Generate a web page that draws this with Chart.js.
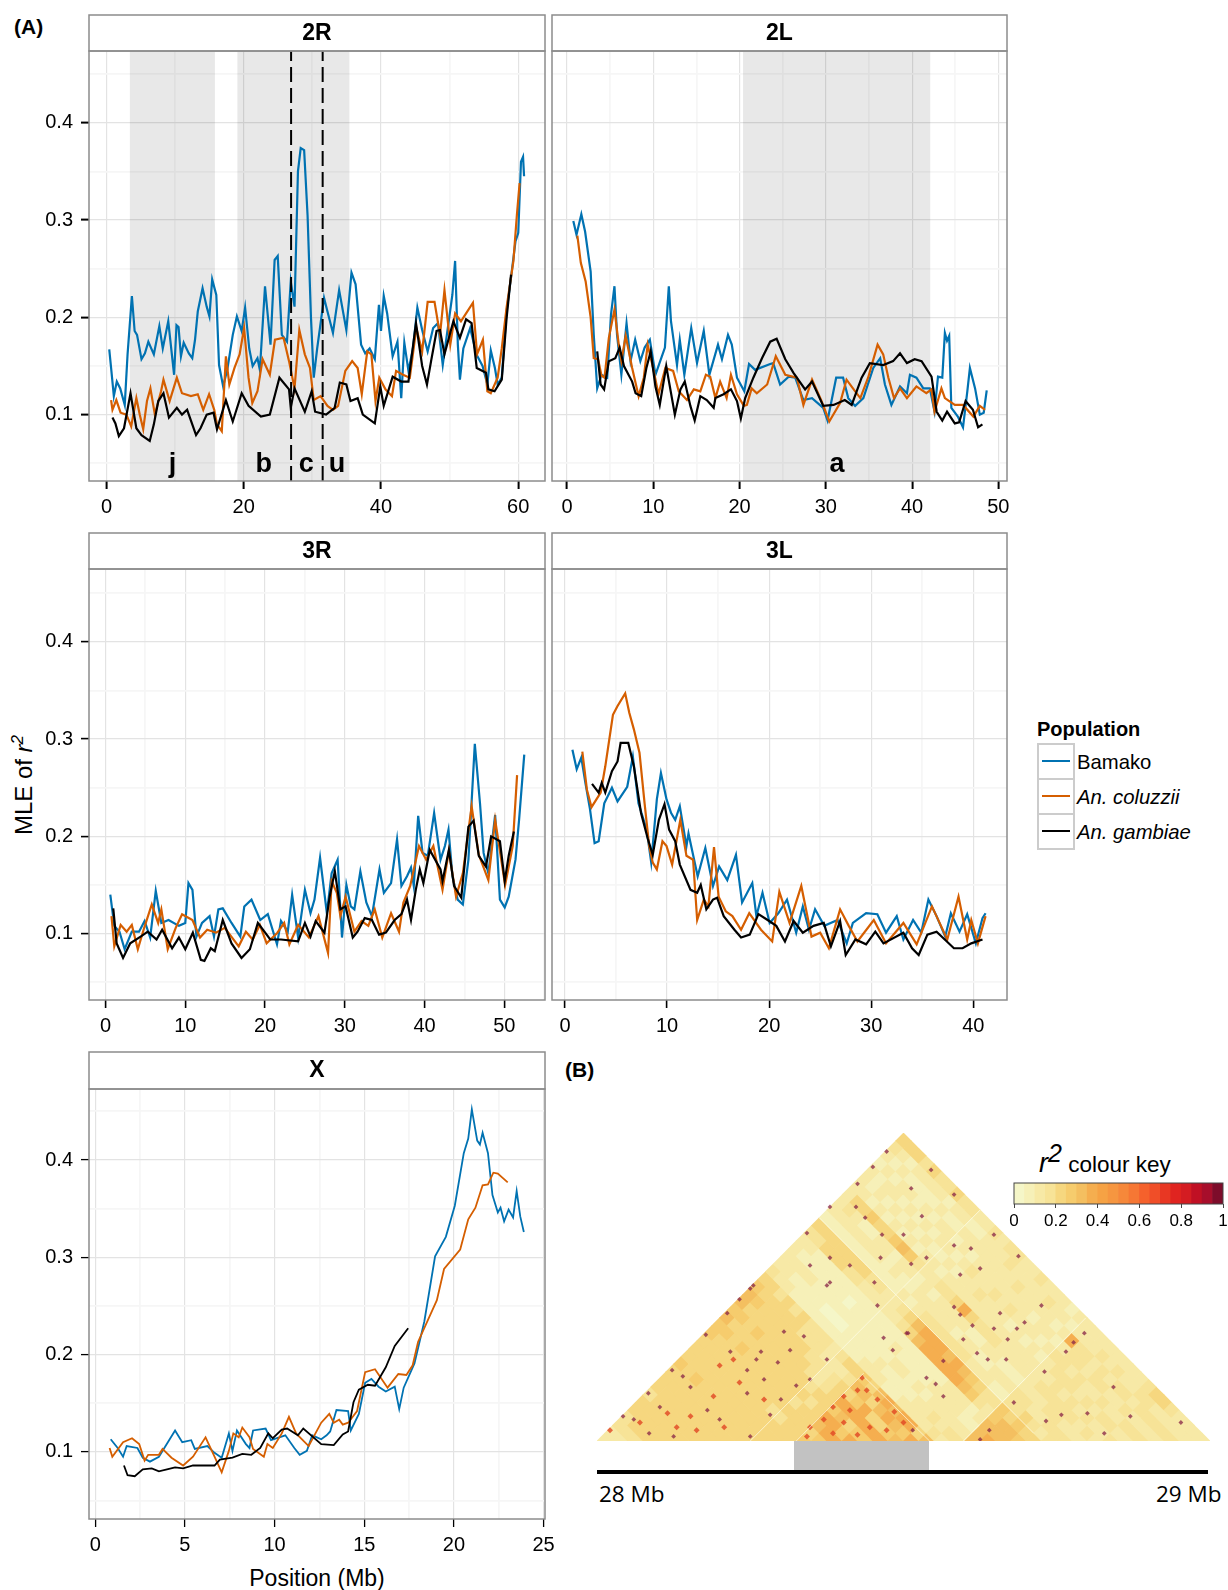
<!DOCTYPE html>
<html>
<head>
<meta charset="utf-8">
<title>LD decay</title>
<script src="https://cdn.jsdelivr.net/npm/chart.js@4"></script>
<style>
    html, body { margin: 0; padding: 0; background: #fff; }
    body { position: relative; width: 1228px; height: 1590px; overflow: hidden; font-family: "Liberation Sans", sans-serif; color: #000; }
    canvas { position: absolute; }
    .txt { position: absolute; white-space: nowrap; line-height: 1; }
    .keybox { position: absolute; left: 1037px; width: 34px; height: 33px; border: 2px solid #ccc; }
    .keyline { position: absolute; left: 3px; right: 3px; top: 15px; height: 2px; }
</style>
</head>
<body>
<div class="txt" style="left:14px;top:16px;font-weight:bold;font-size:21px">(A)</div>
<div class="txt" style="left:565px;top:1059px;font-weight:bold;font-size:21px">(B)</div>
<div class="txt" style="left:24px;top:785px;font-size:24px;transform:translate(-50%,-50%) rotate(-90deg)">MLE of <i>r</i><sup style="font-size:17px;font-style:italic;line-height:0">2</sup></div>
<div class="txt" style="left:317px;top:1578px;font-size:23px;transform:translate(-50%,-50%)">Position (Mb)</div>

<div class="txt" style="left:1037px;top:719px;font-size:20px;font-weight:bold">Population</div>
<div class="keybox" style="top:743px"><div class="keyline" style="background:#0072B2"></div></div>
<div class="keybox" style="top:778px"><div class="keyline" style="background:#D55E00"></div></div>
<div class="keybox" style="top:813px"><div class="keyline" style="background:#000"></div></div>
<div class="txt" style="left:1077px;top:752px;font-size:20.3px">Bamako</div>
<div class="txt" style="left:1077px;top:787px;font-size:20.3px;font-style:italic">An. coluzzii</div>
<div class="txt" style="left:1077px;top:822px;font-size:20.3px;font-style:italic">An. gambiae</div>

<div class="txt" style="left:1039px;top:1150px;font-size:22.5px"><i style="font-size:27px">r</i><sup style="font-size:25px;font-style:italic;line-height:0;position:relative;top:-2px">2</sup> colour key</div>

<div style="position:absolute;left:794px;top:1441px;width:135px;height:30px;background:#c2c2c2"></div>
<div style="position:absolute;left:597px;top:1470px;width:611px;height:4px;background:#000"></div>
<div class="txt" style="left:599px;top:1483px;font-family:'Open Sans';font-size:22.5px">28 Mb</div>
<div class="txt" style="left:1156px;top:1483px;font-family:'Open Sans';font-size:22.5px">29 Mb</div>

<script>
const bamako2R = [[0.4,.167],[0.67,.148],[1.07,.119],[1.5,.134],[2,.127],[2.66,.110],[3.07,.162],[3.7,.222],[4.1,.186],[4.45,.182],[5.1,.157],[5.6,.163],[6.1,.175],[6.9,.162],[7.7,.191],[8.2,.168],[9,.196],[9.85,.141],[10.2,.192],[10.5,.190],[10.85,.160],[11.25,.174],[12,.163],[12.5,.158],[12.9,.177],[13.3,.206],[14,.230],[14.6,.211],[15,.201],[15.4,.239],[16,.223],[16.4,.151],[17,.129],[17.6,.146],[18.4,.182],[19,.201],[19.7,.186],[20.2,.210],[20.8,.168],[21.3,.150],[22,.158],[22.35,.146],[23.1,.232],[23.9,.172],[24.5,.259],[24.95,.263],[25.55,.182],[26.3,.175],[26.85,.237],[27.4,.211],[27.9,.350],[28.3,.374],[28.8,.372],[29.3,.305],[29.8,.199],[30.2,.138],[30.7,.168],[31.2,.194],[31.7,.220],[32.2,.206],[33,.184],[33.9,.228],[34.95,.187],[35.7,.246],[36.3,.234],[37.1,.172],[37.7,.163],[38.35,.168],[39.1,.157],[39.7,.213],[40,.186],[40.4,.222],[40.9,.204],[41.7,.160],[42.4,.175],[42.95,.117],[43.4,.174],[44,.145],[44.65,.168],[45.3,.210],[46,.187],[46.8,.165],[47.6,.189],[48.3,.194],[49,.151],[49.6,.182],[50.4,.223],[50.8,.258],[51.2,.172],[51.5,.136],[52,.168],[53,.189],[53.9,.162],[54.8,.150],[55.5,.131],[56,.166],[56.6,.148],[57,.131],[57.6,.138],[58.3,.206],[59,.244],[59.6,.278],[60,.287],[60.4,.360],[60.7,.365],[60.85,.345]];
const coluzzii2R = [[0.67,.115],[0.87,.105],[1.43,.115],[2.05,.102],[2.9,.100],[3.6,.088],[4.35,.117],[4.85,.100],[5.35,.085],[5.9,.114],[6.4,.127],[7.05,.100],[7.95,.124],[8.3,.136],[9.2,.114],[10.25,.138],[11,.122],[12.3,.119],[13.3,.121],[14.1,.105],[14.95,.121],[15.7,.105],[16.1,.090],[16.8,.083],[17.4,.160],[17.9,.131],[18.65,.148],[19.4,.162],[20.05,.189],[20.7,.138],[21.25,.112],[22,.124],[22.75,.157],[23.8,.141],[24.55,.177],[25.8,.179],[26.6,.155],[27.4,.127],[28.1,.187],[28.9,.162],[29.65,.148],[30.2,.115],[31.2,.119],[32.2,.109],[33,.105],[33.75,.109],[34.8,.145],[35.8,.155],[36.6,.148],[37.2,.121],[38,.165],[38.6,.162],[39.2,.114],[39.75,.138],[40.65,.126],[41.6,.119],[42.2,.145],[43.2,.141],[44.2,.138],[45.15,.189],[46,.165],[46.8,.216],[47.8,.216],[48.6,.182],[49.25,.228],[50.1,.172],[50.8,.204],[51.65,.196],[52.4,.204],[53.4,.215],[54,.162],[54.85,.177],[55.5,.124],[56,.122],[57,.138],[57.6,.168],[58.3,.210],[59.3,.258],[59.8,.305],[60.2,.338]];
const gambiae2R = [[0.87,.097],[1.3,.091],[1.8,.078],[2.55,.086],[3.5,.122],[4.35,.086],[5.1,.079],[6.3,.073],[6.9,.090],[7.55,.114],[8.3,.122],[9.1,.097],[10.25,.107],[11,.100],[11.75,.105],[13.05,.079],[13.7,.086],[14.6,.100],[15.6,.102],[16.1,.085],[17.4,.115],[18.4,.093],[19.7,.122],[20.7,.109],[22.5,.098],[23.8,.100],[25.2,.138],[26.6,.126],[26.85,.107],[27.4,.127],[28.9,.103],[29.9,.124],[30.4,.103],[32,.100],[33.25,.107],[34,.133],[34.95,.131],[35.55,.114],[36.6,.117],[37.35,.100],[39.1,.091],[39.9,.129],[40.4,.109],[41.7,.139],[42.95,.134],[44,.134],[45.1,.194],[46,.150],[46.7,.131],[47.3,.155],[48.1,.186],[48.6,.187],[49.25,.162],[50.55,.196],[51.5,.179],[52.4,.198],[53.2,.194],[53.95,.148],[55.3,.143],[55.65,.126],[56.55,.124],[57.6,.136],[58.3,.199],[58.95,.244]];

const bamako2L = [[0.73,.299],[1.1,.285],[1.66,.306],[2.1,.288],[2.74,.247],[3.1,.182],[3.5,.127],[4,.141],[4.66,.138],[5.1,.203],[5.5,.232],[5.8,.182],[6.3,.141],[6.9,.194],[7.36,.155],[7.9,.177],[8.5,.155],[9,.169],[9.6,.177],[10.25,.141],[10.8,.155],[11.35,.169],[11.8,.232],[12.05,.196],[12.75,.151],[13.07,.177],[13.6,.141],[14.4,.189],[15.07,.153],[15.85,.186],[16.5,.141],[17.5,.172],[17.96,.157],[18.66,.182],[19.1,.172],[19.7,.138],[20.55,.124],[21.1,.152],[21.8,.146],[23.55,.152],[23.9,.153],[24.7,.131],[25.7,.139],[26.45,.138],[27.4,.115],[28.4,.117],[29.7,.107],[30.2,.094],[31.2,.138],[32,.138],[32.6,.117],[33.4,.109],[34.35,.117],[35.5,.148],[36.3,.158],[36.85,.131],[37.6,.110],[38.6,.129],[39.4,.122],[39.75,.141],[40.5,.138],[41.3,.127],[42.05,.127],[42.6,.103],[43,.139],[43.5,.138],[43.8,.184],[44.05,.176],[44.3,.181],[44.55,.107],[45.3,.098],[45.9,.087],[46.4,.124],[46.7,.148],[47.3,.127],[47.85,.100],[48.3,.102],[48.65,.125]];
const coluzzii2L = [[1.2,.284],[1.6,.256],[2.16,.237],[2.74,.200],[3.1,.158],[3.6,.157],[4,.140],[4.35,.138],[4.85,.179],[5.5,.208],[6,.172],[6.3,.155],[6.8,.181],[7.55,.148],[8.3,.119],[8.9,.138],[9.35,.172],[10.05,.145],[10.6,.121],[11.4,.148],[12.3,.145],[12.95,.124],[13.9,.115],[14.7,.126],[15.45,.124],[16.1,.141],[16.6,.139],[17.2,.117],[17.75,.134],[18.5,.117],[19,.141],[19.7,.121],[20.5,.109],[20.85,.110],[21.4,.127],[22,.122],[23.2,.131],[24.2,.160],[25.3,.141],[26.65,.138],[27.4,.110],[28.4,.136],[29.5,.114],[30.4,.093],[31.65,.112],[32.4,.136],[33.4,.124],[34,.117],[34.9,.138],[36,.172],[36.65,.162],[37.25,.138],[37.9,.117],[38.6,.127],[39.4,.117],[40.5,.129],[41.65,.122],[42.25,.126],[42.6,.103],[43.4,.127],[43.8,.117],[44.95,.110],[45.9,.110],[47.1,.098],[47.85,.109],[48.45,.105]];
const gambiae2L = [[3.5,.165],[3.9,.131],[4.3,.126],[4.85,.155],[5.6,.158],[6.1,.169],[6.6,.150],[7.55,.134],[7.95,.122],[8.6,.119],[9.2,.148],[9.7,.165],[10.25,.129],[10.75,.110],[11.5,.150],[12.5,.100],[13.15,.126],[13.65,.134],[14.3,.109],[14.8,.094],[15.45,.119],[16.2,.115],[17,.107],[17.2,.117],[18.15,.121],[19,.126],[19.7,.114],[20.15,.096],[20.65,.117],[21.6,.138],[22.6,.158],[23.55,.175],[24.3,.178],[25.3,.157],[26.25,.143],[27.6,.126],[28.4,.134],[29.7,.109],[30.9,.110],[32.2,.115],[33,.110],[34.15,.138],[35.1,.153],[36.65,.151],[37.8,.155],[38.6,.163],[39.4,.153],[40.3,.157],[41.1,.155],[42.25,.139],[42.85,.103],[43.5,.094],[44.05,.103],[44.95,.091],[45.45,.092],[46.2,.114],[47.05,.105],[47.65,.087],[48.15,.090]];

const bamako3R = [[0.6,.140],[1.1,.108],[1.75,.102],[2.4,.084],[3.3,.102],[4.2,.102],[4.9,.113],[5.6,.096],[6.3,.144],[7,.111],[7.9,.114],[9.2,.108],[10,.111],[10.4,.152],[10.9,.145],[11.4,.097],[12.1,.111],[13.05,.118],[13.6,.097],[14.15,.125],[14.7,.126],[15.8,.111],[16.9,.097],[17.4,.128],[18.3,.135],[19.4,.114],[20.35,.120],[21.5,.089],[22,.113],[22.85,.102],[23.4,.140],[24.15,.096],[25,.145],[25.7,.121],[26.2,.135],[26.9,.178],[27.75,.121],[28.35,.162],[29.1,.176],[29.65,.096],[30.2,.150],[30.75,.128],[31.2,.125],[31.95,.164],[32.7,.132],[33.4,.118],[34.35,.166],[34.9,.142],[35.8,.152],[36.55,.197],[37.1,.149],[37.8,.159],[38.3,.168],[38.65,.149],[39.2,.221],[39.75,.183],[40.4,.180],[41.2,.224],[42,.176],[42.55,.190],[43,.207],[43.5,.159],[44.15,.135],[44.8,.130],[45.5,.176],[46.3,.295],[46.95,.234],[47.4,.183],[48,.162],[48.85,.222],[49.45,.135],[50.05,.127],[50.55,.138],[51.4,.176],[51.85,.217],[52.5,.284]];
const coluzzii3R = [[0.75,.118],[1.1,.087],[1.9,.109],[2.65,.102],[3.3,.109],[4.05,.084],[4.85,.106],[5.8,.130],[6.6,.111],[7,.125],[7.8,.084],[8.8,.106],[9.6,.120],[10.9,.114],[11.85,.096],[12.75,.104],[13.85,.101],[14.95,.106],[16.7,.087],[17.6,.102],[18.45,.094],[19.35,.109],[20.2,.090],[21.55,.101],[22.4,.111],[23.05,.089],[24.15,.109],[25.5,.096],[26.7,.118],[27.9,.080],[28.35,.154],[29,.142],[29.45,.118],[30.1,.138],[31.2,.102],[32.1,.113],[32.95,.108],[33.75,.125],[34.7,.096],[35.8,.121],[36.8,.102],[37.35,.132],[38.2,.149],[39.3,.190],[40.2,.176],[41.1,.190],[42.25,.145],[43.05,.185],[43.95,.138],[44.8,.162],[45.9,.231],[46.8,.181],[48,.155],[48.85,.217],[50.1,.150],[51.05,.190],[51.6,.263]];
const gambiae3R = [[0.97,.126],[1.4,.090],[2.2,.075],[3.1,.090],[4.4,.097],[5.3,.102],[6.4,.094],[7.1,.104],[8.35,.085],[9.2,.096],[10,.084],[10.95,.101],[11.95,.073],[12.4,.072],[13.2,.085],[13.7,.082],[14.7,.114],[15.8,.090],[17.05,.075],[18.1,.084],[19.1,.111],[20.65,.094],[22,.094],[24.15,.092],[25,.111],[25.7,.097],[26.35,.113],[27.45,.101],[28.1,.138],[28.75,.164],[29.45,.125],[30.1,.128],[31,.096],[31.6,.102],[32.5,.116],[33.4,.114],[34.3,.099],[35.15,.101],[36.25,.114],[37.1,.120],[37.8,.135],[38.3,.114],[38.9,.145],[39.4,.166],[39.85,.152],[40.65,.186],[42,.166],[42.25,.154],[43.05,.186],[43.7,.149],[44.6,.137],[45.5,.210],[46.15,.216],[46.8,.180],[47.7,.169],[48.35,.200],[49.45,.195],[50.05,.154],[50.55,.180],[51.2,.205]];

const bamako3L = [[0.73,.289],[1.15,.269],[1.6,.281],[2,.255],[2.45,.228],[2.9,.193],[3.3,.195],[3.85,.234],[4.6,.250],[5.15,.236],[6.1,.251],[6.65,.282],[7.2,.234],[8,.207],[8.45,.173],[9,.238],[9.4,.265],[9.95,.238],[10.4,.224],[10.8,.217],[11.25,.231],[11.9,.190],[12.1,.203],[13,.159],[13.75,.188],[14.5,.149],[15.1,.169],[15.9,.155],[16.75,.181],[17.35,.132],[18.35,.152],[18.75,.118],[19.35,.142],[20.05,.111],[20.9,.121],[21.75,.135],[22.65,.101],[23.3,.128],[23.9,.104],[24.5,.125],[25.4,.108],[26.7,.114],[27.6,.090],[28.2,.111],[29.5,.121],[30.6,.120],[31.45,.101],[32.5,.118],[33.15,.094],[34.1,.114],[34.9,.101],[35.6,.135],[36.4,.118],[37.25,.097],[37.8,.121],[38.65,.102],[39.4,.120],[40.25,.090],[40.9,.116],[41.2,.121]];
const coluzzii3L = [[1.7,.287],[2.15,.248],[2.6,.230],[3.5,.245],[3.95,.272],[4.7,.325],[5.15,.334],[5.9,.347],[6.3,.327],[6.75,.310],[7.3,.286],[7.8,.234],[8.25,.190],[8.6,.173],[9,.166],[9.55,.195],[9.95,.190],[10.5,.171],[11.3,.217],[11.9,.180],[12.55,.176],[12.95,.114],[13.6,.135],[14.05,.128],[14.6,.189],[15.05,.138],[15.75,.123],[16.4,.118],[17.25,.104],[18.05,.121],[19.2,.104],[20.3,.092],[21,.143],[22,.111],[23.15,.149],[24.15,.097],[25,.101],[25.85,.085],[26.95,.125],[27.8,.108],[28.65,.092],[30.25,.114],[31.45,.090],[33.15,.111],[34.45,.089],[35.95,.128],[37.45,.094],[38.55,.138],[39.4,.094],[39.8,.114],[40.45,.090],[41.2,.118]];
const gambiae3L = [[2.65,.254],[3.3,.245],[3.6,.255],[3.95,.245],[4.6,.267],[5.15,.277],[5.45,.296],[6.2,.296],[6.75,.272],[7.45,.224],[8.1,.198],[8.6,.181],[9.2,.217],[9.75,.233],[10.2,.207],[10.8,.195],[11.25,.171],[12.3,.145],[12.95,.142],[13.3,.150],[13.85,.125],[14.5,.135],[14.9,.137],[15.55,.118],[16.6,.104],[17.25,.096],[18.1,.099],[18.95,.120],[19.85,.114],[20.7,.108],[21.55,.092],[22.4,.113],[23.3,.101],[24.35,.108],[25.35,.111],[26.05,.087],[26.95,.113],[27.5,.078],[28.45,.094],[29.5,.089],[30.4,.102],[31.2,.090],[33.15,.101],[34,.085],[34.65,.078],[35.5,.099],[36.4,.102],[38.1,.085],[38.95,.085],[39.8,.090],[40.9,.094]];

const bamakoX = [[0.86,.113],[1.25,.104],[1.55,.095],[1.75,.106],[2.35,.104],[2.65,.094],[3.05,.090],[3.55,.095],[4.45,.122],[4.85,.110],[5.35,.112],[5.55,.103],[6.25,.106],[6.65,.099],[7.05,.094],[7.45,.119],[7.65,.101],[7.9,.122],[8.4,.108],[8.6,.104],[8.8,.122],[9.5,.124],[9.8,.112],[10.6,.117],[11.1,.104],[11.4,.097],[11.8,.101],[12.1,.117],[12.6,.113],[12.9,.117],[13.1,.121],[13.45,.143],[14.1,.142],[14.25,.122],[14.7,.139],[15.05,.171],[15.4,.175],[15.8,.167],[16.2,.162],[16.7,.167],[16.95,.144],[17.2,.166],[17.8,.191],[18.35,.234],[18.95,.301],[19.55,.321],[20.05,.353],[20.55,.407],[20.8,.422],[21,.452],[21.3,.420],[21.45,.416],[21.6,.428],[21.9,.407],[22.15,.364],[22.45,.346],[22.6,.351],[22.8,.337],[23.05,.349],[23.3,.341],[23.5,.368],[23.7,.342],[23.9,.326]];
const coluzziiX = [[0.8,.104],[0.95,.095],[1.55,.110],[2.05,.114],[2.45,.108],[2.75,.091],[2.95,.097],[3.55,.097],[3.75,.103],[4.25,.094],[4.9,.086],[5.45,.095],[6.15,.115],[6.65,.095],[7.05,.079],[7.45,.101],[7.7,.119],[8,.115],[8.2,.125],[8.6,.115],[8.8,.103],[9.4,.095],[9.6,.108],[9.9,.104],[10.4,.119],[10.8,.136],[11.2,.119],[11.9,.106],[12.6,.130],[13.05,.139],[13.3,.130],[13.6,.133],[13.8,.128],[14.1,.130],[14.6,.142],[15.05,.182],[15.6,.185],[16.3,.166],[16.9,.180],[17.35,.179],[17.7,.189],[18,.213],[19.05,.256],[19.45,.288],[20.35,.308],[20.8,.339],[21.2,.351],[21.6,.374],[21.9,.375],[22.2,.387],[22.45,.386],[23,.377]];
const gambiaeX = [[1.6,.086],[1.8,.076],[2.2,.075],[2.65,.082],[3.15,.083],[3.55,.080],[4.45,.084],[4.9,.083],[5.45,.086],[6.65,.086],[6.95,.092],[7.65,.094],[8.2,.098],[8.7,.097],[9.2,.104],[9.65,.119],[9.9,.114],[10.4,.123],[10.7,.124],[11.3,.117],[11.6,.124],[12.6,.108],[13.3,.107],[13.8,.118],[14.1,.121],[14.4,.151],[14.7,.164],[15.2,.169],[15.6,.168],[16.2,.187],[16.7,.209],[17.45,.227]];

// inversion extents in Mb, breakpoints of 2Rc and the letters under the curves
const bands2R = [[3.4, 15.8], [19.07, 35.4]];
const bands2L = [[20.4, 42.1]];
const breaks2R = [26.9, 31.5];
const letters2R = [["j", 9.6], ["b", 22.9], ["c", 29.1], ["u", 33.6]];
const letters2L = [["a", 31.3]];

const keyColours = ["#F5F6C8", "#F6F0B8", "#F7E9A6", "#F7E397", "#F6D77F", "#F6CC6D", "#F4BF60", "#F5AE4F", "#F6A244", "#F69640", "#F6883A", "#F67734", "#F5612C", "#F04E28", "#E83723", "#E02420", "#D41C22", "#C01024", "#A70E2B", "#7D0C2A"];
const keyTicks = [0, 0.2, 0.4, 0.6, 0.8, 1];

// Panel B, averaged by eye over 40 groups of SNPs: row i holds the pairs (i, j) for j >= i,
// one digit per cell in steps of 0.04 r2. The single SNPs are too fine to read one by one.
const r2Rows = [
    "33445 54556765 677878876 43333 45 233 3 333234 5",
    "345655656665 567676765 33323 45 234 5 322323 5",
    "45566556766 566666654 32322 56 233 6 233232 5",
    "5656656666 567675655 22322 56 232 7 323323 4",
    "565656665 565656554 22222 55 232 6 232323 5",
    "65656565 566566555 22222 45 233 6 323223 4",
    "6565656 556565544 21222 45 233 7 232323 4",
    "656565 555656544 21212 34 222 8 323232 5",
    "56566 566555444 21222 34 233 7 232323 4",
    "6556 455554433 22222 33 223 4 323323 4",
    "565 454543334 22222 33 322 3 323232 3",
    "56 555454435 22222 34 233 3 232332 3",
    "6 655555545 32222 45 332 4 323233 4",
    "768979687 33232 68 433 4 334333 3",
    "79989786 32322 89 433 5 333333 4",
    "9769968 22322 99 433 9 343334 4",
    "979689 22222 99 423 6 334333 3",
    "79698 32322 98 432 4 333343 3",
    "9789 33232 99 432 4 334333 4",
    "879 33333 98 323 4 323333 3",
    "96 34333 87 323 3 333234 3",
    "8 43333 76 332 3 323333 3",
    "34322 44 232 3 332323 2",
    "4323 34 232 3 323232 3",
    "888 77 443 3 334393 3",
    "98 86 443 4 344443 3",
    "8 87 533 4 443443 3",
    "76 434 4 344334 3",
    "5 344 4 433443 3",
    "443 4 343434 3",
    "43 3 434343 3",
    "3 4 343343 3",
    "3 343434 4",
    "434344 6",
    "34343 5",
    "4343 4",
    "343 3",
    "43 3",
    "3 3",
    "3"
];
const snpGroups = 40;

// the darkest single pairs that stand out of the averaged cells, in group units
const darkPairs = [[4.9,4.6],[3.35,3.1],[7.1,6.9],[8.5,8.3],[9.3,9.2],[10.7,5.8],[12.2,7.1],[10.4,5.3],[9.8,4.6],[8.7,5.8],[13.5,6.8],[12.6,5.9],[11.8,5.1],[10.9,4],[9.8,3.1],[12,2.7],[11.3,1.7],[8,1.4],[10,.3],[15,5.3],[13.9,4],[13,3.6],[5.6,4.2],[6.1,3.5],[7.2,2],[4.1,2.2],[2.4,1.4],[1.7,1.6],[5,.3],[3.4,.5],[20.2,7],[19.3,5.9],[18.7,6.7],[18.3,8.8],[15.2,10.3],
    [23.3,8.7],[23.7,8.2],[24.5,7.5],[22.6,5.2],[21.5,4.1],[20.3,7],[26.7,5.3],[29.2,4.5],[31.1,6.4],[31.8,7],[30.6,5.8],[30.3,1.7],[29.3,1.3],[27.2,2.5],[25.6,.7],[25,.1],[20.6,.7],[34.8,1.6],[38.1,1.2],[33.7,3.5],[32,1.8],[33.1,.5],[25.9,7.3],[26.8,6.6],[27.4,7.3],[26.3,8.3],[27.9,7.7],[29,8.8],[25.5,5.3],[24.8,5.7],[23.9,6.6],[22.1,3.7],[22.6,2.9],
    [18.6,13.4],[17.5,14.5],[16.9,15.2],[15.2,15.2],[13.7,13.5],[17,16.7],[18,17.8],[18.9,18.8],[21.8,17.6],[23.3,16],[20.5,16.4],[21.2,14.6],[20,13.4],[23.3,12.7],[24.4,12.5],[27.5,12],[21.5,11.9],[18.5,11.9],[15.2,11.9],[13.9,11.4],[16.5,11.4],[20.5,11.5],[10.2,10.1],[15,10.1],[18.1,10.3],[23.7,10.8],[25.9,13.4],[25,11.2],[10,9.9]];

// single pairs in the red part of the key, mostly in the block at the base and the lower left
const redPairs = [[17.3,4.1],[17,3.3],[17.6,3.3],[16.1,2.9],[15.4,2.2],[16.5,2],[18.3,2.7],[19.4,1.9],[14.8,1.4],[16.1,1.2],[17.8,.9],[13.9,.9],[18.9,.7],[15.4,.5],[17,.4],[13.7,.3],[20,1.2],[.85,.7],[2.8,1.2],[4.6,1.8],[5.2,.9],[6.5,.7],[8.3,.9],[6.1,1.6],[7.6,2.9],[8.9,5.3],[8,4.9],[9.3,3.8],[10.9,2.7]];

// pale lines where a SNP had no data
const gapLines = [[[10, 0], [25, 15]], [[23.9, 0], [31.9, 8]], [[14.5, 14.5], [28.5, 0.5]], [[13, 0], [17.4, 4.4]], [[17.4, 4.2], [21.7, 0]]];

const BLUE = "#0072B2", ORANGE = "#D55E00", BLACK = "#000000";
const SANS = "'Liberation Sans', sans-serif";
const Y_W = 52, X_H = 40, PAD_R = 18;

const panels = [
    { name: "2R", left: 89, right: 545, top: 14, strip: 51, bottom: 481, xr: [-2.55, 63.9], xStep: 10, xMajor: 20, yr: [.0318, .4738], yLabels: true, lw: 2.2, tw: 2, series: [bamako2R, coluzzii2R, gambiae2R], bands: bands2R, breaks: breaks2R, letters: letters2R },
    { name: "2L", left: 552, right: 1007, top: 14, strip: 51, bottom: 481, xr: [-1.74, 51.0], xStep: 5, xMajor: 10, yr: [.0318, .4738], lw: 2.2, tw: 2, series: [bamako2L, coluzzii2L, gambiae2L], bands: bands2L, letters: letters2L },
    { name: "3R", left: 89, right: 545, top: 532, strip: 569, bottom: 1000, xr: [-2.07, 55.1], xStep: 5, xMajor: 10, yr: [.0318, .4748], yLabels: true, lw: 2.2, tw: 1.6, series: [bamako3R, coluzzii3R, gambiae3R] },
    { name: "3L", left: 552, right: 1007, top: 532, strip: 569, bottom: 1000, xr: [-1.27, 43.3], xStep: 5, xMajor: 10, yr: [.0318, .4748], lw: 2.2, tw: 1.6, series: [bamako3L, coluzzii3L, gambiae3L] },
    { name: "X", left: 89, right: 545, top: 1051, strip: 1089, bottom: 1519, xr: [-0.35, 25.08], xStep: 2.5, xMajor: 5, yr: [.031, .473], yLabels: true, lw: 1.8, tw: 1.3, series: [bamakoX, coluzziiX, gambiaeX] }
];

function addCanvas(left, top, width, height) {
    const c = document.createElement("canvas");
    c.width = width;
    c.height = height;
    c.style.left = left + "px";
    c.style.top = top + "px";
    c.style.width = width + "px";
    c.style.height = height + "px";
    document.body.appendChild(c);
    return c.getContext("2d");
}

function isMajor(v, step) {
    return Math.abs(v / step - Math.round(v / step)) < 1e-6;
}

function axisStyle(step, tickWidth) {
    return {
        color: ctx => isMajor(ctx.tick.value, step) ? "#e3e3e3" : "#f6f6f6",
        lineWidth: ctx => isMajor(ctx.tick.value, step) ? 1.2 : 1.8,
        tickColor: ctx => isMajor(ctx.tick.value, step) ? "#000" : "rgba(0,0,0,0)",
        tickWidth: tickWidth,
        tickLength: 8
    };
}

function drawPanel(p) {
    const ctx = addCanvas(p.left - Y_W, p.top, p.right - p.left + Y_W + PAD_R, p.bottom - p.top + X_H);
    const colours = [BLUE, ORANGE, BLACK];
    // a lower order is painted later: black ends on top
    const datasets = p.series.map((pts, i) => ({
        data: pts.map(([x, y]) => ({ x, y })),
        borderColor: colours[i],
        borderWidth: p.lw,
        showLine: true,
        pointRadius: 0,
        tension: 0,
        order: 3 - i
    }));
    (p.breaks || []).forEach(x => datasets.push({
        data: [{ x, y: p.yr[0] }, { x, y: p.yr[1] }],
        borderColor: "#000",
        borderWidth: 2,
        borderDash: [15, 6],
        showLine: true,
        pointRadius: 0,
        order: 0
    }));

    const decor = {
        id: "decor",
        beforeDatasetsDraw(chart) {
            const { ctx: c, chartArea: a, scales } = chart;
            c.save();
            c.fillStyle = "rgba(0,0,0,0.09)";
            (p.bands || []).forEach(([from, to]) => {
                const x0 = scales.x.getPixelForValue(from), x1 = scales.x.getPixelForValue(to);
                c.fillRect(x0, a.top, x1 - x0, a.bottom - a.top);
            });
            c.restore();
        },
        afterDatasetsDraw(chart) {
            const { ctx: c, chartArea: a, scales } = chart;
            c.save();
            c.fillStyle = "#000";
            c.textAlign = "center";
            c.textBaseline = "middle";
            c.font = "bold 27px " + SANS;
            (p.letters || []).forEach(([t, x]) => c.fillText(t, scales.x.getPixelForValue(x), scales.y.getPixelForValue(0.0487)));
            // strip above the panel
            c.fillStyle = "#fff";
            c.strokeStyle = "#8c8c8c";
            c.lineWidth = 1.5;
            c.fillRect(a.left, 1, a.right - a.left, a.top - 1);
            c.strokeRect(a.left, 1, a.right - a.left, a.top - 1);
            c.strokeRect(a.left, a.top, a.right - a.left, a.bottom - a.top);
            c.fillStyle = "#000";
            c.font = "bold 23px " + SANS;
            c.fillText(p.name, (a.left + a.right) / 2, a.top / 2 + 1);
            c.restore();
        }
    };

    new Chart(ctx, {
        type: "scatter",
        data: { datasets },
        options: {
            responsive: false,
            animation: false,
            layout: { padding: { top: p.strip - p.top, right: PAD_R, left: 0, bottom: 0 } },
            plugins: { legend: { display: false }, tooltip: { enabled: false } },
            scales: {
                x: {
                    type: "linear",
                    min: p.xr[0],
                    max: p.xr[1],
                    border: { display: false },
                    grid: axisStyle(p.xMajor, p.tw),
                    ticks: {
                        stepSize: p.xStep,
                        includeBounds: false,
                        autoSkip: false,
                        maxRotation: 0,
                        padding: 6,
                        color: "#000",
                        font: { family: SANS, size: 20 },
                        callback: v => isMajor(v, p.xMajor) ? String(v) : ""
                    },
                    afterFit: s => { s.height = X_H; s.paddingLeft = 0; s.paddingRight = 0; }
                },
                y: {
                    type: "linear",
                    min: p.yr[0],
                    max: p.yr[1],
                    border: { display: false },
                    grid: Object.assign(axisStyle(0.1, p.tw), { drawTicks: !!p.yLabels }),
                    ticks: {
                        display: !!p.yLabels,
                        stepSize: 0.05,
                        includeBounds: false,
                        autoSkip: false,
                        padding: 8,
                        color: "#000",
                        font: { family: SANS, size: 20 },
                        callback: v => isMajor(v, 0.1) ? v.toFixed(1) : ""
                    },
                    afterFit: s => { s.width = Y_W; s.paddingTop = 0; s.paddingBottom = 0; }
                }
            }
        },
        plugins: [decor]
    });
}

function colourFor(r2) {
    return keyColours[Math.min(keyColours.length - 1, Math.floor(r2 * keyColours.length + 1e-6))];
}

function drawHeat() {
    const width = 613, height = 308;
    const ctx = addCanvas(597, 1133, width, height);
    const cells = [];
    r2Rows.forEach((row, i) => {
        [...row.replace(/ /g, "")].forEach((digit, k) => {
            const j = i + k;
            if (j < snpGroups) {
                cells.push({ x: (i + j + 1) / 2, y: (j - i) / 2, r2: digit * 0.04 });
            }
        });
    });
    const datasets = [{
        data: cells,
        pointStyle: "rectRot",
        pointRadius: width / snpGroups / 2 + 0.5,
        pointBorderWidth: 0,
        pointBackgroundColor: cells.map(c => colourFor(c.r2)),
        order: 4
    }, {
        data: redPairs.map(([x, y]) => ({ x, y })),
        pointStyle: "rectRot",
        pointRadius: 3,
        pointBorderWidth: 0,
        pointBackgroundColor: "rgba(225,70,35,0.8)",
        order: 3
    }, {
        data: darkPairs.map(([x, y]) => ({ x, y })),
        pointStyle: "rectRot",
        pointRadius: 2.4,
        pointBorderWidth: 0,
        pointBackgroundColor: "rgba(135,35,70,0.75)",
        order: 2
    }];
    gapLines.forEach(line => datasets.push({
        data: line.map(([x, y]) => ({ x, y })),
        showLine: true,
        pointRadius: 0,
        borderColor: "rgba(255,255,240,0.65)",
        borderWidth: 1,
        order: 1
    }));
    new Chart(ctx, {
        type: "scatter",
        data: { datasets },
        options: {
            responsive: false,
            animation: false,
            layout: { autoPadding: false, padding: 0 },
            plugins: { legend: { display: false }, tooltip: { enabled: false } },
            scales: {
                x: { type: "linear", display: false, min: 0, max: snpGroups },
                y: { type: "linear", display: false, min: 0, max: snpGroups / 2 }
            }
        }
    });
}

function drawKey() {
    const ctx = addCanvas(1000, 1180, 228, 56);
    const frame = {
        id: "frame",
        afterDatasetsDraw(chart) {
            const { ctx: c, chartArea: a } = chart;
            c.save();
            c.strokeStyle = "#444";
            c.lineWidth = 1;
            c.strokeRect(a.left, a.top, a.right - a.left, a.bottom - a.top);
            c.restore();
        }
    };
    const bins = keyColours.length;
    new Chart(ctx, {
        type: "bar",
        data: {
            datasets: [{
                data: keyColours.map((_, i) => ({ x: (i + 0.5) / bins, y: 1 })),
                backgroundColor: keyColours,
                barPercentage: 1,
                categoryPercentage: 1
            }]
        },
        options: {
            responsive: false,
            animation: false,
            layout: { autoPadding: false, padding: { top: 3, left: 14, right: 5, bottom: 0 } },
            plugins: { legend: { display: false }, tooltip: { enabled: false } },
            scales: {
                x: {
                    type: "linear",
                    offset: false,
                    min: 0,
                    max: 1,
                    border: { display: false },
                    grid: { offset: false, drawOnChartArea: false, color: "#444", tickLength: 4, tickWidth: 1 },
                    afterBuildTicks: s => { s.ticks = keyTicks.map(value => ({ value })); },
                    ticks: {
                        autoSkip: false,
                        maxRotation: 0,
                        padding: 3,
                        color: "#000",
                        font: { family: SANS, size: 17 },
                        callback: v => String(v)
                    },
                    afterFit: s => { s.height = 32; s.paddingLeft = 0; s.paddingRight = 0; }
                },
                y: { display: false, min: 0, max: 1 }
            }
        },
        plugins: [frame]
    });
}

document.addEventListener("DOMContentLoaded", function() {
    panels.forEach(drawPanel);
    drawHeat();
    drawKey();
});
</script>
</body>
</html>
